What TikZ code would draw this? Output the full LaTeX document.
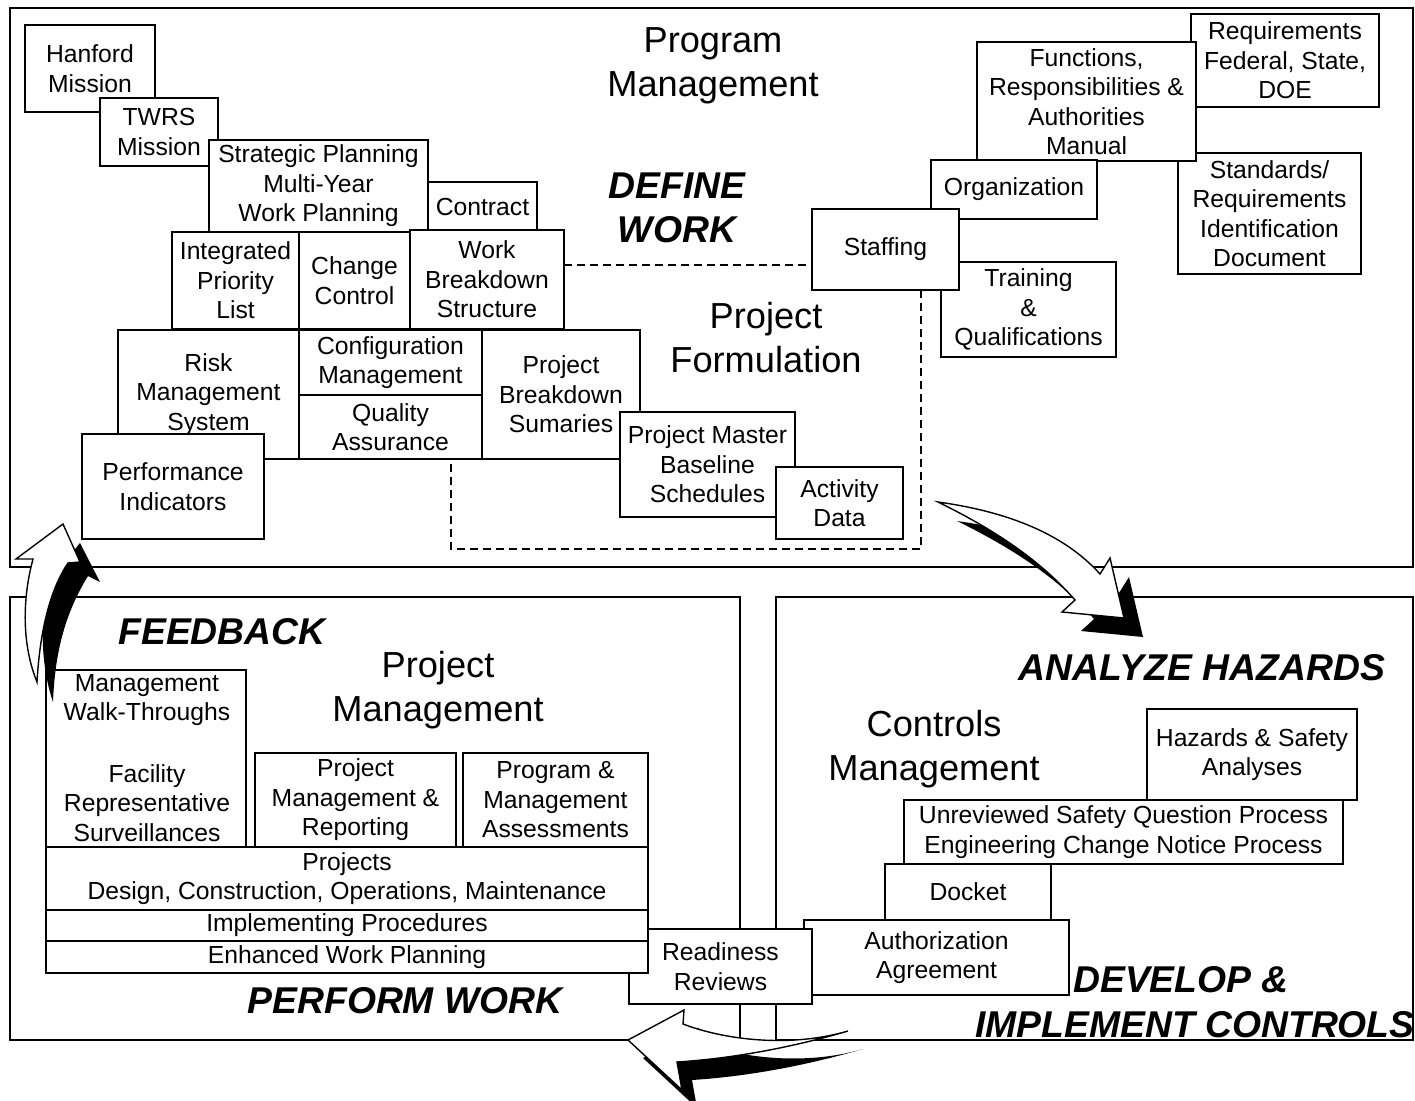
\documentclass[tikz,border=0pt]{standalone}
\usepackage{fontspec}
\setmainfont{Liberation Sans}
\newcommand\bxat[6]{\node[bx, minimum width={#4-#2}, minimum height={#5-#3}] (#1) at ({(#2+#4)/2},{(#3+#5)/2}) {#6};}
\begin{document}
\begin{tikzpicture}[x=1pt,y=-1pt,
  bx/.style={draw, fill=white, line width=1.3pt, align=center, inner sep=0pt,
    font=\fontsize{24.7}{29.5}\selectfont},
  frame/.style={draw, line width=1.3pt},
  dsh/.style={draw, line width=1.3pt, dash pattern=on 8pt off 5pt},
  ttl/.style={align=center, inner sep=0pt, font=\fontsize{36.2}{44}\selectfont},
  stage/.style={align=center, inner sep=0pt, font=\fontsize{37.3}{44}\selectfont\bfseries\itshape},
  txt/.style={align=center, inner sep=0pt, font=\fontsize{24.7}{29.5}\selectfont},
  arrw/.style={fill=white, draw=black, line width=1.4pt, line join=miter},
  shad/.style={fill=black}]
\useasboundingbox (0,0) rectangle (1415,1100);

% frames
\draw[frame] (10,8) rectangle (1413,567);
\draw[frame] (10,597) rectangle (740,1040);
\draw[frame] (776,597) rectangle (1413,1040);

% dashed project formulation outline
\draw[dsh] (564,265) -- (812,265);
\draw[dsh] (921,290) -- (921,549) -- (451,549) -- (451,459);

% titles
\node[ttl] (progm) at (713,66) {Program\\Management};
\node[stage] (define) at (677,208) {DEFINE\\WORK};
\node[ttl] (projf) at (766,338) {Project\\Formulation};

% top-left staircase
\bxat{hanford}{25}{25}{155}{112}{Hanford\\Mission}
\bxat{twrs}{100}{98}{218}{166}{TWRS\\Mission}
\bxat{strat}{209}{140}{428}{232}{Strategic Planning\\Multi-Year\\Work Planning}
\bxat{contract}{428}{182}{537}{232}{Contract}
\bxat{ipl}{172}{232}{299}{329}{Integrated\\Priority\\List}
\bxat{cc}{299}{232}{410}{329}{Change\\Control}
\bxat{wbs}{410}{230}{564}{329}{Work\\Breakdown\\Structure}
\bxat{risk}{118}{330}{299}{459}{Risk\\Management\\System}
\bxat{cm}{299}{330}{482}{395}{Configuration\\Management}
\bxat{qa}{299}{395}{482}{459}{Quality\\Assurance}
\bxat{pbs}{482}{330}{640}{459}{Project\\Breakdown\\Sumaries}
\bxat{pi}{82}{434}{264}{539}{Performance\\Indicators}
\bxat{pmb}{620}{412}{795}{517}{Project Master\\Baseline\\Schedules}
\bxat{act}{776}{467}{903}{539}{Activity\\Data}

% top-right staircase
\bxat{req}{1191}{14}{1379}{107}{Requirements\\Federal, State,\\DOE}
\bxat{std}{1178}{153}{1361}{274}{Standards/\\Requirements\\Identification\\Document}
\bxat{fra}{977}{42}{1196}{161}{Functions,\\Responsibilities \&\\Authorities\\Manual}
\bxat{org}{931}{160}{1097}{219}{Organization}
\bxat{train}{941}{262}{1116}{357}{Training\\\&\\Qualifications}
\bxat{staff}{812}{209}{959}{290}{Staffing}

% bottom-left
\node[stage] (feedback) at (222,632) {FEEDBACK};
\node[ttl] (projm) at (438,690) {Project\\Management};
\bxat{authz}{804}{920}{1069}{995}{Authorization\\Agreement}
\bxat{ready}{629}{929}{812}{1004}{Readiness\\Reviews}
\bxat{walk}{46}{670}{246}{847}{}
\node[txt] (walkt) at (147,700) {Management\\Walk-Throughs};
\node[txt] (facil) at (147,803) {Facility\\Representative\\Surveillances};
\bxat{pmr}{255}{753}{456}{847}{Project\\Management \&\\Reporting}
\bxat{pma}{463}{753}{648}{847}{Program \&\\Management\\Assessments}
\bxat{projs}{46}{847}{648}{910}{Projects\\Design, Construction, Operations, Maintenance}
\bxat{impl}{46}{910}{648}{941}{Implementing Procedures}
\bxat{ewp}{46}{941}{648}{973}{Enhanced Work Planning}
\node[stage] (perform) at (405,1001) {PERFORM WORK};

% bottom-right
\node[stage] (analyze) at (1202,668) {ANALYZE HAZARDS};
\node[ttl] (ctrlm) at (934,749) {Controls\\Management};
\bxat{haz}{1147}{709}{1357}{800}{Hazards \& Safety\\Analyses}
\bxat{usq}{904}{800}{1343}{864}{Unreviewed Safety Question Process\\Engineering Change Notice Process}
\bxat{docket}{885}{864}{1051}{920}{Docket}
\node[stage] (develop) at (1181,980) {DEVELOP \&};
\node[stage] (implc) at (1195,1025) {IMPLEMENT CONTROLS};

% feedback arrow
\fill[shad] (66,560) -- (80,543) -- (100,582) -- (88,576) .. controls (66,612) and (55,650) .. (53,702)
  .. controls (42,670) and (38,620) .. (50,585) -- cycle;
\draw[arrw] (37,682) .. controls (22,645) and (22,600) .. (33,559) -- (16,559) -- (63,524)
  -- (80,562) -- (68,563) .. controls (50,590) and (40,630) .. (37,682) -- cycle;

% define -> analyze arrow
\fill[shad, shift={(19,19)}] (938,502) .. controls (1010,512) and (1065,535) .. (1100,574)
  -- (1110,558) -- (1124,618) -- (1062,612) -- (1075,600)
  .. controls (1040,560) and (995,530) .. (938,502) -- cycle;
\draw[arrw] (938,502) .. controls (1010,512) and (1065,535) .. (1100,574)
  -- (1110,558) -- (1124,618) -- (1062,612) -- (1075,600)
  .. controls (1040,560) and (995,530) .. (938,502) -- cycle;

% develop -> perform arrow
\fill[shad, shift={(15,18)}] (848,1031) .. controls (790,1048) and (725,1040) .. (683,1024)
  -- (684,1010) -- (628,1040) -- (682,1090) -- (677,1062)
  .. controls (740,1058) and (800,1045) .. (848,1031) -- cycle;
\draw[arrw] (848,1031) .. controls (790,1048) and (725,1040) .. (683,1024)
  -- (684,1010) -- (628,1040) -- (682,1090) -- (677,1062)
  .. controls (740,1058) and (800,1045) .. (848,1031) -- cycle;
\end{tikzpicture}
\end{document}
